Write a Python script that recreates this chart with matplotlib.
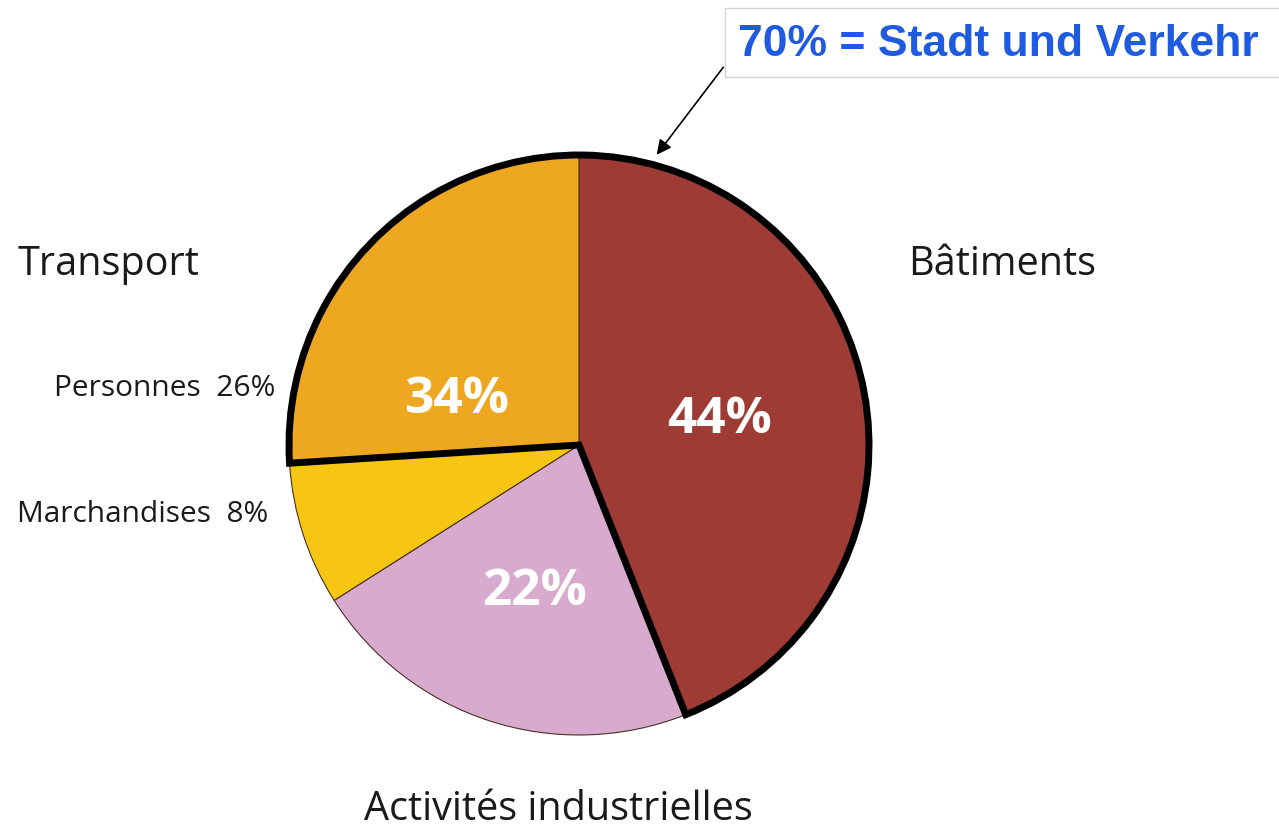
import matplotlib.pyplot as plt
from matplotlib.patches import Wedge, Rectangle

# Data
labels = ['Bâtiments', 'Activités industrielles', 'Marchandises', 'Personnes']
shares = [44, 22, 8, 26]
colors = ['#9E3B35', '#D8AACE', '#F7C613', '#EEA720']
highlight_total = 70

W, H = 1279, 832
fig = plt.figure(figsize=(W / 100, H / 100), dpi=100)
ax = fig.add_axes([0, 0, 1, 1])

cx, cy, r = 579, H - 445, 290

wedges, _ = ax.pie(shares, colors=colors, startangle=90, counterclock=False,
                   center=(cx, cy), radius=r, frame=True,
                   wedgeprops=dict(edgecolor='#4a3020', linewidth=0.8))
ax.set_xlim(0, W)
ax.set_ylim(0, H)
ax.set_aspect('equal')
ax.axis('off')

# thick outline around Bâtiments + Personnes
a_end = 90 - 360 * shares[0] / 100
a_start = 90 + 360 * shares[3] / 100
ax.add_patch(Wedge((cx, cy), r, a_end, a_start, fill=False,
                   edgecolor='black', linewidth=5, joinstyle='miter', zorder=5))

# white percentages inside
for x, y, s in [(457, 400, '34%'), (720, 420, '44%'), (535, 592, '22%')]:
    ax.text(x, H - y, s, color='white', fontsize=37, fontweight='bold',
            family='Open Sans', ha='center', va='center', zorder=6)

# outer labels
txt = '#1a1a1a'
ax.text(18, H - 265, 'Transport', fontsize=28.5, family='Open Sans', color=txt,
        ha='left', va='center')
ax.text(908, H - 265, 'Bâtiments', fontsize=28.5, family='Open Sans', color=txt,
        ha='left', va='center')
ax.text(558, 2, 'Activités industrielles', fontsize=28.5, family='Open Sans',
        color=txt, ha='center', va='bottom')
ax.text(275, H - 389, 'Personnes  26%', fontsize=21.5, family='Open Sans', color=txt,
        ha='right', va='center')
ax.text(268, H - 515, 'Marchandises  8%', fontsize=21.5, family='Open Sans', color=txt,
        ha='right', va='center')

# callout box
ax.add_patch(Rectangle((725, H - 77), 600, 69, facecolor='white',
                       edgecolor='#d4d4d4', linewidth=1, zorder=7, clip_on=False))
ax.text(738, H - 44, f'{highlight_total}% = Stadt und Verkehr', color='#1F5BE0',
        fontsize=32, fontweight='bold', family='Liberation Sans',
        ha='left', va='center', zorder=8)
ax.annotate('', xy=(655, H - 157), xytext=(725, H - 65),
            arrowprops=dict(arrowstyle='-|>', color='black', lw=1.2,
                            mutation_scale=22), zorder=8)

fig.savefig('out.png', dpi=100)
